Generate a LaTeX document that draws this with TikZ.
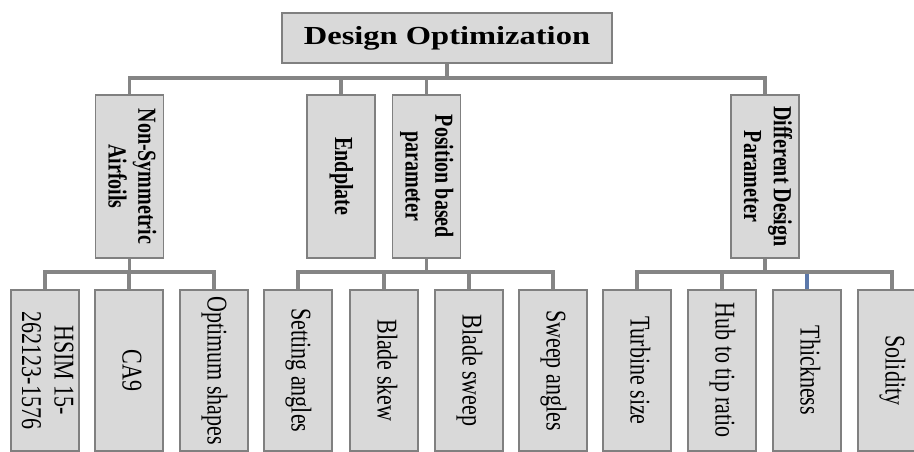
\documentclass[tikz,border=0pt]{standalone}
\usepackage{fontspec}
\setmainfont{Liberation Serif}
\usepackage{graphicx}
\definecolor{boxfill}{HTML}{D9D9D9}
\definecolor{boxline}{HTML}{808080}
\definecolor{linkgrey}{HTML}{858585}
\definecolor{linkblue}{HTML}{5B78AA}
% vertical label: text rotated to read top to bottom, widened across the box
\newcommand{\vlabel}[1]{\rotatebox{-90}{\scalebox{1}[1.3]{\begin{tabular}{@{}c@{}}#1\end{tabular}}}}
\tikzset{
  box/.style={draw=boxline, fill=boxfill, line width=1.8pt, inner sep=0pt, anchor=north},
  headbox/.style={box, minimum width=330pt, minimum height=50pt},
  midbox/.style={box, minimum width=68pt, minimum height=163pt,
    font=\fontsize{20}{23}\selectfont\bfseries},
  leafbox/.style={box, minimum width=68pt, minimum height=161pt,
    font=\fontsize{22}{25}\selectfont},
  conn/.style={draw=linkgrey, line width=3.2pt}
}
\begin{document}
\begin{tikzpicture}[x=1pt, y=-1pt]
\useasboundingbox (0,0) rectangle (914,452);

% root
\node[headbox] (root) at (447,12)
  {\scalebox{1.25}[1]{\fontsize{26}{30}\selectfont\bfseries Design Optimization}};

% second level
\node[midbox] (nsa) at (129.5,94) {\vlabel{Non-Symmetric\\Airfoils}};
\node[midbox] (endp) at (341,94) {\vlabel{Endplate}};
\node[midbox] (posb) at (426.5,94) {\vlabel{Position based\\parameter}};
\node[midbox] (ddp) at (765,94) {\vlabel{Different Design\\Parameter}};

% leaves
\node[leafbox] (hsim) at (45,289) {\vlabel{HSIM 15-\\262123-1576}};
\node[leafbox] (ca9) at (129,289) {\vlabel{CA9}};
\node[leafbox] (opt) at (214,289) {\vlabel{Optimum shapes}};
\node[leafbox] (seta) at (298,289) {\vlabel{Setting angles}};
\node[leafbox] (bskew) at (384,289) {\vlabel{Blade skew}};
\node[leafbox] (bsweep) at (469,289) {\vlabel{Blade sweep}};
\node[leafbox] (swa) at (553,289) {\vlabel{Sweep angles}};
\node[leafbox] (turb) at (637,289) {\vlabel{Turbine size}};
\node[leafbox] (hub) at (722,289) {\vlabel{Hub to tip ratio}};
\node[leafbox] (thick) at (807,289) {\vlabel{Thickness}};
\node[leafbox] (sol) at (892,289) {\vlabel{Solidity}};

% connectors: root to second level
\foreach \c in {nsa,endp,posb,ddp}
  \draw[conn] (\c.north) -- ++(0,-16) -| (root.south);

% connectors: second level to leaves
\foreach \c in {hsim,ca9,opt}
  \draw[conn] (\c.north) -- ++(0,-17) -| (nsa.south);
\foreach \c in {seta,bskew,bsweep,swa}
  \draw[conn] (\c.north) -- ++(0,-17) -| (posb.south);
\draw[conn, draw=linkblue] (thick.north) -- ++(0,-17) -| (ddp.south);
\foreach \c in {turb,hub,sol}
  \draw[conn] (\c.north) -- ++(0,-17) -| (ddp.south);
\end{tikzpicture}
\end{document}
